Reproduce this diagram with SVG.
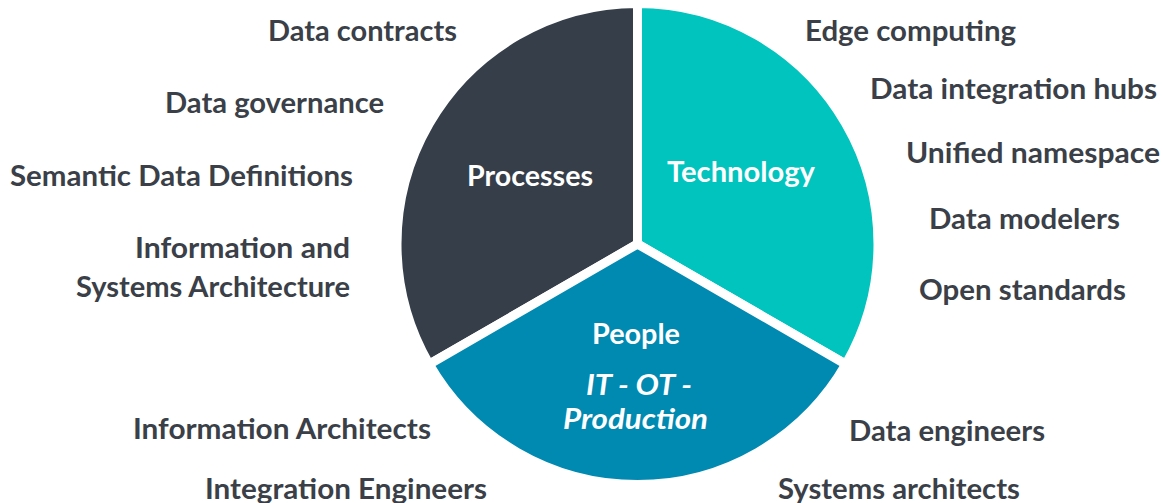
<svg xmlns="http://www.w3.org/2000/svg" width="1162" height="503" viewBox="0 0 1162 503">
<style>
.slice{stroke:#ffffff;stroke-width:9;stroke-linejoin:miter}
.lbl{font-family:Lato,"Open Sans","Liberation Sans",sans-serif;font-weight:700;font-size:29px;fill:#3a3f48}
.in{font-family:Lato,"Open Sans","Liberation Sans",sans-serif;font-weight:700;font-size:29px;fill:#ffffff}
.it{font-style:italic}
</style>
<rect width="1162" height="503" fill="#ffffff"/>
<g id="processes">
<path class="slice" fill="#353e49" d="M637.5,244 L637.5,3.5 A240.5,240.5 0 0 0 429.22,364.25 Z"/>
<text class="in" x="467" y="186" textLength="126" lengthAdjust="spacingAndGlyphs">Processes</text>
</g>
<g id="technology">
<path class="slice" fill="#00c4bd" d="M637.5,244 L637.5,3.5 A240.5,240.5 0 0 1 845.78,364.25 Z"/>
<text class="in" x="667" y="182" textLength="148" lengthAdjust="spacingAndGlyphs">Technology</text>
</g>
<g id="people">
<path class="slice" fill="#0089b1" d="M637.5,244 L845.78,364.25 A240.5,240.5 0 0 1 429.22,364.25 Z"/>
<text class="in" x="592" y="344" textLength="88" lengthAdjust="spacingAndGlyphs">People</text>
<text class="in it" x="586" y="395" textLength="106" lengthAdjust="spacingAndGlyphs">IT - OT -</text>
<text class="in it" x="563" y="429" textLength="145" lengthAdjust="spacingAndGlyphs">Production</text>
</g>
<g id="process-labels">
<text class="lbl" x="268" y="41" textLength="189" lengthAdjust="spacingAndGlyphs">Data contracts</text>
<text class="lbl" x="165" y="113" textLength="219" lengthAdjust="spacingAndGlyphs">Data governance</text>
<text class="lbl" x="10" y="186" textLength="343" lengthAdjust="spacingAndGlyphs">Semantic Data Definitions</text>
<text class="lbl" x="135" y="258" textLength="215" lengthAdjust="spacingAndGlyphs">Information and</text>
<text class="lbl" x="76" y="297" textLength="274" lengthAdjust="spacingAndGlyphs">Systems Architecture</text>
</g>
<g id="technology-labels">
<text class="lbl" x="805" y="41" textLength="211" lengthAdjust="spacingAndGlyphs">Edge computing</text>
<text class="lbl" x="870" y="99" textLength="287" lengthAdjust="spacingAndGlyphs">Data integration hubs</text>
<text class="lbl" x="906" y="163" textLength="254" lengthAdjust="spacingAndGlyphs">Unified namespace</text>
<text class="lbl" x="929" y="229" textLength="191" lengthAdjust="spacingAndGlyphs">Data modelers</text>
<text class="lbl" x="919" y="300" textLength="207" lengthAdjust="spacingAndGlyphs">Open standards</text>
</g>
<g id="people-labels">
<text class="lbl" x="133" y="439" textLength="298" lengthAdjust="spacingAndGlyphs">Information Architects</text>
<text class="lbl" x="205" y="499" textLength="282" lengthAdjust="spacingAndGlyphs">Integration Engineers</text>
<text class="lbl" x="849" y="441" textLength="196" lengthAdjust="spacingAndGlyphs">Data engineers</text>
<text class="lbl" x="778" y="499" textLength="242" lengthAdjust="spacingAndGlyphs">Systems architects</text>
</g>
</svg>
